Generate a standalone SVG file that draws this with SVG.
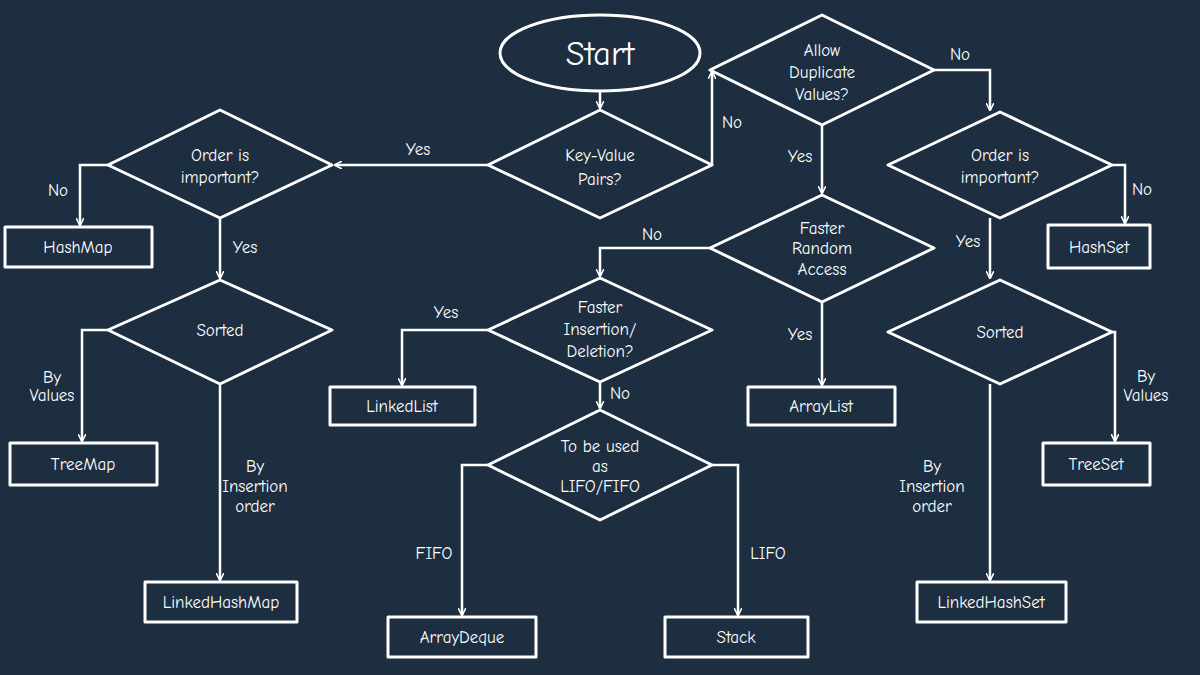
<svg xmlns="http://www.w3.org/2000/svg" width="1200" height="675" viewBox="0 0 1200 675">
<defs>
<marker id="ah" viewBox="0 0 10 10" refX="9" refY="5" markerWidth="8" markerHeight="8" orient="auto-start-reverse" markerUnits="userSpaceOnUse"><path d="M0,0 L10,5 L0,10" fill="none" stroke="#fff" stroke-width="2"/></marker>
</defs>
<style>
.s{fill:none;stroke:#fff;stroke-width:3;stroke-linejoin:round}
.c{fill:none;stroke:#fff;stroke-width:2.5;marker-end:url(#ah)}
text{fill:#fff;font-family:"Comic Neue","Liberation Sans",sans-serif;font-size:17px;text-anchor:middle}
</style>
<rect width="1200" height="675" fill="#1c2e40"/>
<g id="connectors">
<path class="c" d="M600,92 V108"/>
<path class="c" d="M488,165 H335"/>
<path class="c" d="M712,165 V72"/>
<path class="c" d="M934,70 H990 V110"/>
<path class="c" d="M822,125 V193"/>
<path class="c" d="M1112,165 H1125 V223"/>
<path class="c" d="M990,218 V278"/>
<path class="c" d="M1112,332 H1115 V441"/>
<path class="c" d="M990,384 V580"/>
<path class="c" d="M710,248 H600 V276"/>
<path class="c" d="M822,302 V385"/>
<path class="c" d="M488,330 H402 V385"/>
<path class="c" d="M600,382 V408"/>
<path class="c" d="M488,465 H462 V615"/>
<path class="c" d="M712,465 H738 V615"/>
<path class="c" d="M108,165 H80 V225"/>
<path class="c" d="M220,218 V278"/>
<path class="c" d="M108,330 H82 V441"/>
<path class="c" d="M220,384 V580"/>
<text x="418" y="155">Yes</text>
<text x="732" y="128">No</text>
<text x="960" y="60">No</text>
<text x="800" y="162">Yes</text>
<text x="1142" y="195">No</text>
<text x="968" y="247">Yes</text>
<text x="1146" y="382">By</text><text x="1146" y="401">Values</text>
<text x="932" y="472">By</text><text x="932" y="492">Insertion</text><text x="932" y="512">order</text>
<text x="652" y="240">No</text>
<text x="800" y="340">Yes</text>
<text x="446" y="318">Yes</text>
<text x="620" y="399">No</text>
<text x="434" y="559">FIFO</text>
<text x="768" y="559">LIFO</text>
<text x="58" y="196">No</text>
<text x="245" y="253">Yes</text>
<text x="52" y="383">By</text><text x="52" y="401">Values</text>
<text x="255" y="472">By</text><text x="255" y="492">Insertion</text><text x="255" y="512">order</text>
</g>
<g id="start"><ellipse class="s" cx="600" cy="53" rx="100" ry="38"/><text x="600" y="65" style="font-size:34px">Start</text></g>
<g id="keyvalue"><polygon class="s" points="600,110 712,165 600,218 488,165"/><text x="600" y="161">Key-Value</text><text x="600" y="185">Pairs?</text></g>
<g id="dup"><polygon class="s" points="822,15 934,70 822,125 710,70"/><text x="822" y="56">Allow</text><text x="822" y="78">Duplicate</text><text x="822" y="100">Values?</text></g>
<g id="orderR"><polygon class="s" points="1000,112 1112,165 1000,218 888,165"/><text x="1000" y="161">Order is</text><text x="1000" y="183">important?</text></g>
<g id="hashset"><rect class="s" x="1048" y="225" width="102" height="43"/><text x="1099" y="253">HashSet</text></g>
<g id="sortedR"><polygon class="s" points="1000,280 1112,332 1000,384 888,332"/><text x="1000" y="338">Sorted</text></g>
<g id="treeset"><rect class="s" x="1043" y="443" width="107" height="42"/><text x="1096" y="470">TreeSet</text></g>
<g id="lhs"><rect class="s" x="917" y="582" width="149" height="40"/><text x="991" y="608">LinkedHashSet</text></g>
<g id="random"><polygon class="s" points="822,195 934,248 822,302 710,248"/><text x="822" y="234">Faster</text><text x="822" y="254">Random</text><text x="822" y="275">Access</text></g>
<g id="arraylist"><rect class="s" x="748" y="387" width="147" height="38"/><text x="821" y="412">ArrayList</text></g>
<g id="insert"><polygon class="s" points="600,278 712,330 600,382 488,330"/><text x="600" y="313">Faster</text><text x="600" y="335">Insertion/</text><text x="600" y="357">Deletion?</text></g>
<g id="linkedlist"><rect class="s" x="330" y="387" width="145" height="38"/><text x="402" y="412">LinkedList</text></g>
<g id="lifo"><polygon class="s" points="600,410 712,465 600,520 488,465"/><text x="600" y="452">To be used</text><text x="600" y="472">as</text><text x="600" y="492">LIFO/FIFO</text></g>
<g id="arraydeque"><rect class="s" x="388" y="617" width="148" height="40"/><text x="462" y="643">ArrayDeque</text></g>
<g id="stack"><rect class="s" x="665" y="617" width="143" height="40"/><text x="736" y="643">Stack</text></g>
<g id="orderL"><polygon class="s" points="220,110 332,165 220,218 108,165"/><text x="220" y="161">Order is</text><text x="220" y="183">important?</text></g>
<g id="hashmap"><rect class="s" x="5" y="227" width="147" height="40"/><text x="78" y="253">HashMap</text></g>
<g id="sortedL"><polygon class="s" points="220,280 332,330 220,384 108,330"/><text x="220" y="336">Sorted</text></g>
<g id="treemap"><rect class="s" x="10" y="443" width="147" height="42"/><text x="83" y="470">TreeMap</text></g>
<g id="lhm"><rect class="s" x="145" y="582" width="152" height="40"/><text x="221" y="608">LinkedHashMap</text></g>
</svg>
